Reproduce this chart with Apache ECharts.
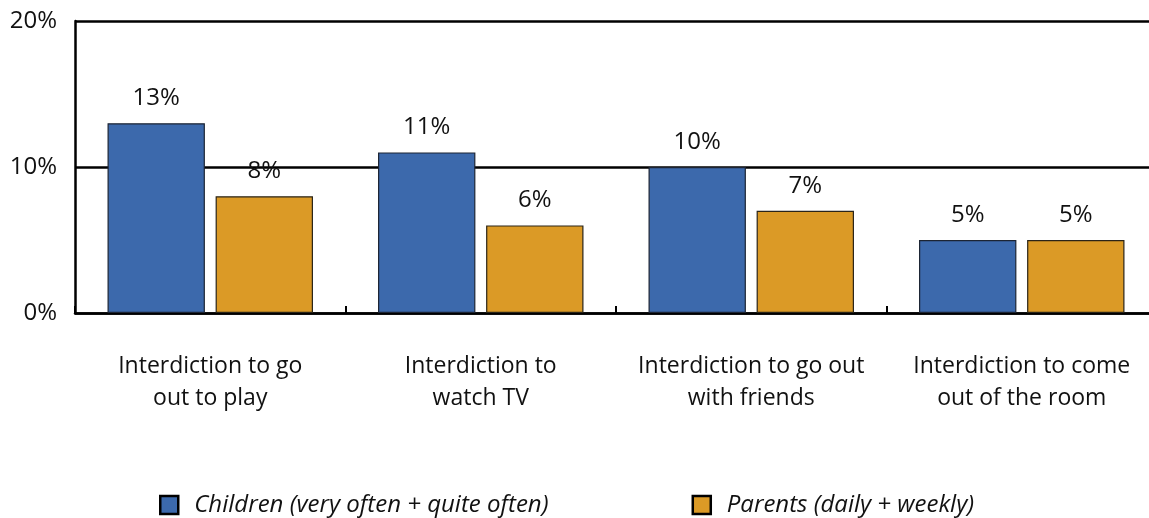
<!DOCTYPE html>
<html>
<head>
<meta charset="utf-8">
<script src="https://cdn.jsdelivr.net/npm/echarts@6/dist/echarts.min.js"></script>
<style>
  html, body { margin: 0; padding: 0; background: #fff; }
  #chart { width: 1149px; height: 518px; }
</style>
</head>
<body>
<div id="chart"></div>
<script>
const categories = [
  'Interdiction to go\nout to play',
  'Interdiction to\nwatch TV',
  'Interdiction to go out\nwith friends',
  'Interdiction to come\nout of the room'
]
const childrenValues = [13, 11, 10, 5]
const parentsValues = [8, 6, 7, 5]
const seriesNames = ['Children (very often + quite often)', 'Parents (daily + weekly)']

const font = 'Open Sans'
const myChart = echarts.init(document.getElementById('chart'), null, { renderer: 'canvas' })

const barLabel = {
  show: true,
  position: 'top',
  distance: 13,
  color: '#111',
  fontFamily: font,
  fontSize: 24,
  formatter: (p) => p.value + '%',
}

const option = {
  animation: false,
  backgroundColor: '#fff',
  textStyle: { fontFamily: font },
  grid: {
    top: 21,
    left: 75,
    width: 1082,
    bottom: 205,
    containLabel: false,
    outerBoundsMode: 'none',
  },
  legend: {
    left: 154,
    top: 488,
    itemWidth: 18,
    itemHeight: 18,
    itemGap: 143,
    icon: 'rect',
    itemStyle: { borderColor: '#000', borderWidth: 2.5 },
    textStyle: {
      fontFamily: font,
      fontStyle: 'italic',
      fontSize: 24,
      color: '#111',
      padding: [0, 0, 0, 11],
    },
    data: seriesNames,
  },
  xAxis: {
    type: 'category',
    data: categories,
    axisLine: { lineStyle: { color: '#000', width: 2.5 } },
    axisTick: { show: true, inside: true, length: 7, lineStyle: { color: '#000', width: 2 } },
    axisLabel: {
      color: '#111',
      fontFamily: font,
      fontSize: 23,
      lineHeight: 32,
      margin: 37,
      interval: 0,
    },
  },
  yAxis: {
    type: 'value',
    min: 0,
    max: 20,
    interval: 10,
    axisLine: { show: true, lineStyle: { color: '#000', width: 2.5 } },
    axisTick: { show: false },
    splitLine: { lineStyle: { color: '#000', width: 2.5 } },
    axisLabel: {
      color: '#111',
      fontFamily: font,
      fontSize: 24,
      margin: 18,
      formatter: (v) => v + '%',
    },
  },
  series: [
    {
      name: seriesNames[0],
      type: 'bar',
      barWidth: '36%',
      barGap: '11%',
      itemStyle: { color: '#3C69AC', borderColor: '#1c2433', borderWidth: 1.2 },
      label: barLabel,
      data: childrenValues,
    },
    {
      name: seriesNames[1],
      type: 'bar',
      barWidth: '36%',
      barGap: '11%',
      itemStyle: { color: '#DB9A26', borderColor: '#2a2418', borderWidth: 1.2 },
      label: barLabel,
      data: parentsValues,
    },
  ],
}

myChart.setOption(option)
window.addEventListener('resize', () => myChart.resize())
</script>
</body>
</html>
